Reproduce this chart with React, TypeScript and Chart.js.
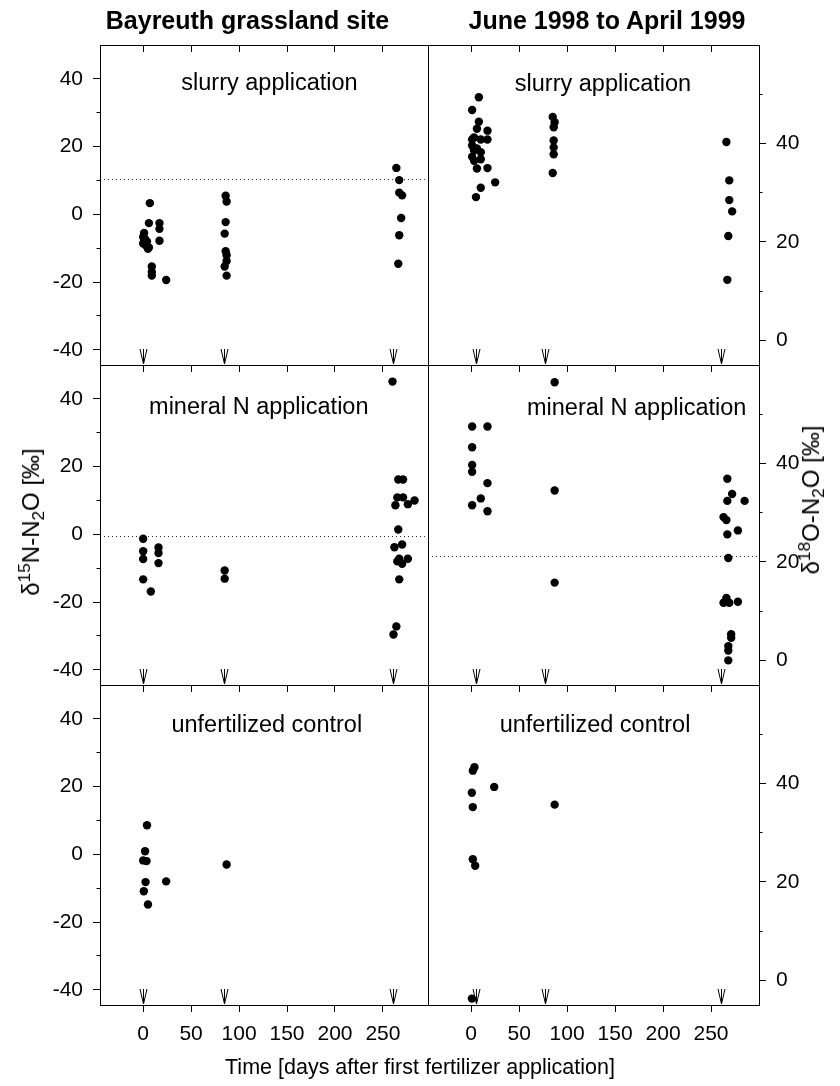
import React, { useEffect, useRef } from 'react';
import { Chart, registerables } from 'chart.js';

Chart.register(...registerables);

const FONT = '"Liberation Sans", Arial, Helvetica, sans-serif';
Chart.defaults.font.family = FONT;

// ---------- axes ----------
const xTicks = [0, 50, 100, 150, 200, 250];
const n15MajorTicks = [-40, -20, 0, 20, 40];
const n15MinorTicks = [-30, -10, 10, 30];
const o18MajorTicks = [0, 20, 40];
const o18MinorTicks = [10, 30, 50];
const n15Range = [-44.5, 50];
const o18Range = [-5, 60];
const xRangeLeft = [-45, 297];
const xRangeRight = [-45, 300];

// fertilizer application days (arrows)
const fertDaysLeft = [0, 84, 261];
const fertDaysRight = [5, 77, 260];

const treatments = ['slurry application', 'mineral N application', 'unfertilized control'];

// ---------- data: slurry ----------
const slurryN_day = [7, 6, 17, 17, 17, 1, 0, 2, 4, 0, 3, 6, 5, 1, 9, 9, 9, 24, 86, 87, 86, 85, 86, 87, 87, 85, 87, 264, 267, 267, 270, 269, 267, 266];
const slurryN_val = [3.3, -2.6, -2.6, -4.3, -7.8, -5.5, -6.7, -7.3, -8.0, -8.6, -9.2, -9.8, -10.2, -7.9, -15.4, -17.0, -18.1, -19.4, 5.5, 3.8, -2.3, -5.7, -10.9, -12.1, -13.8, -15.4, -18.1, 13.7, 10.1, 6.4, 5.6, -1.1, -6.2, -14.6];
const slurryO_day = [8, 1, 8, 6, 17, 1, 10, 17, 3, 1, 6, 3, 10, 1, 10, 3, 6, 17, 25, 10, 5, 85, 87, 86, 86, 86, 86, 85, 266, 269, 269, 272, 268, 267];
const slurryO_val = [49.4, 46.8, 44.4, 43.0, 42.6, 40.8, 40.8, 40.8, 41.2, 39.6, 39.0, 38.6, 38.2, 37.3, 36.8, 36.5, 34.9, 35.0, 32.1, 31.0, 29.1, 45.4, 44.3, 43.3, 40.6, 39.2, 37.8, 34.0, 40.3, 32.5, 28.5, 26.2, 21.2, 12.3];

// ---------- data: mineral N ----------
const mineralN_day = [0, 0, 0, 16, 16, 16, 0, 8, 85, 85, 260, 266, 271, 265, 271, 263, 276, 283, 266, 262, 270, 267, 276, 270, 265, 267, 264, 261];
const mineralN_val = [-1.3, -5.0, -7.3, -3.9, -5.5, -8.5, -13.3, -16.9, -10.7, -13.1, 45.1, 16.2, 16.2, 10.9, 10.9, 8.6, 8.9, 10.0, 1.4, -3.8, -3.0, -7.2, -7.2, -8.7, -8.0, -13.3, -27.2, -29.6];
const mineralO_day = [1, 17, 1, 1, 1, 17, 10, 1, 17, 87, 87, 87, 267, 272, 267, 285, 263, 266, 278, 267, 268, 266, 263, 269, 278, 271, 271, 268, 268, 268];
const mineralO_val = [47.5, 47.5, 43.3, 39.7, 38.3, 36.0, 32.9, 31.5, 30.3, 56.5, 34.5, 15.8, 36.9, 33.8, 32.4, 32.4, 29.1, 28.5, 26.4, 25.6, 20.8, 12.7, 11.7, 11.7, 11.9, 5.3, 4.6, 2.9, 2.0, 0.0];

// ---------- data: unfertilized control ----------
const controlN_day = [4, 2, 3.5, 0, 2.5, 24, 0.7, 5, 87];
const controlN_val = [8.6, 0.9, -2.0, -1.8, -8.2, -8.0, -10.9, -14.8, -3.0];
const controlO_day = [3.4, 1.7, 0.7, 1.7, 24, 87, 1.7, 4.2, 0.7];
const controlO_val = [43.3, 42.6, 38.1, 35.2, 39.3, 35.7, 24.6, 23.3, -3.7];

// dotted reference levels
const refSlurryN = 10.4;
const refMineralN = -0.5;
const refMineralO = 21.2;

// ---------- layout ----------
const W = 840;
const H = 1086;
const COL_X = [[100, 428], [428, 759]];
const ROW_Y = [[45, 365], [365, 685], [685, 1005]];

type Panel = { row: number; col: number; days: number[]; vals: number[]; ref: number | null };
const panels: Panel[] = [
  { row: 0, col: 0, days: slurryN_day, vals: slurryN_val, ref: refSlurryN },
  { row: 0, col: 1, days: slurryO_day, vals: slurryO_val, ref: null },
  { row: 1, col: 0, days: mineralN_day, vals: mineralN_val, ref: refMineralN },
  { row: 1, col: 1, days: mineralO_day, vals: mineralO_val, ref: refMineralO },
  { row: 2, col: 0, days: controlN_day, vals: controlN_val, ref: null },
  { row: 2, col: 1, days: controlO_day, vals: controlO_val, ref: null },
];

const labelPos = [
  [[269.5, 70.8], [603, 71.8]],
  [[258.8, 395.1], [636.7, 396.1]],
  [[266.8, 712.8], [595, 713.4]],
];

const setTicks = (vals: number[]) => (s: any) => {
  s.ticks = vals.map((v) => ({ value: v }));
};
const fixW = (w: number) => (s: any) => {
  s.width = w;
};
const fixH = (h: number) => (s: any) => {
  s.height = h;
};

const panelDecor = {
  id: 'panelDecor',
  beforeDatasetsDraw(chart: any, _args: any, opts: any) {
    const { ctx, chartArea: a, scales } = chart;
    if (opts.ref == null) return;
    const y = Math.round(scales.y.getPixelForValue(opts.ref)) + 0.5;
    ctx.save();
    ctx.strokeStyle = '#333';
    ctx.lineWidth = 1;
    ctx.setLineDash([1, 3]);
    ctx.beginPath();
    ctx.moveTo(a.left, y);
    ctx.lineTo(a.right, y);
    ctx.stroke();
    ctx.restore();
  },
  afterDraw(chart: any, _args: any, opts: any) {
    const { ctx, chartArea: a, scales } = chart;
    ctx.save();
    ctx.strokeStyle = '#000';
    ctx.lineWidth = 1;
    for (const d of opts.arrows as number[]) {
      const x = Math.round(scales.x.getPixelForValue(d)) + 0.5;
      const yt = a.bottom - 16;
      const yb = a.bottom - 1;
      ctx.beginPath();
      ctx.moveTo(x, yt);
      ctx.lineTo(x, yb);
      ctx.moveTo(x - 3.5, yt);
      ctx.lineTo(x, yb);
      ctx.lineTo(x + 3.5, yt);
      ctx.stroke();
    }
    ctx.strokeRect(a.left + 0.5, a.top + 0.5, a.right - a.left, a.bottom - a.top);
    ctx.restore();
  },
};

function tickGrid(len: number) {
  return { display: true, drawOnChartArea: false, drawTicks: true, tickLength: len, tickColor: '#000', tickWidth: 1 };
}

function makeConfig(p: Panel): any {
  const isLeft = p.col === 0;
  const isBottom = p.row === 2;
  const [x0, x1] = COL_X[p.col];
  const [y0, y1] = ROW_Y[p.row];
  const xr = isLeft ? xRangeLeft : xRangeRight;
  const yr = isLeft ? n15Range : o18Range;
  const major = isLeft ? n15MajorTicks : o18MajorTicks;
  const minor = isLeft ? n15MinorTicks : o18MinorTicks;
  const side = isLeft ? 'left' : 'right';
  const axisW = isLeft ? x0 : W - x1;
  const axisH = isBottom ? H - y1 : 0;
  const tickFont = { family: FONT, size: 21 };
  const scales: any = {
    x: {
      type: 'linear', axis: 'x', position: 'bottom', min: xr[0], max: xr[1], weight: 1,
      afterBuildTicks: setTicks(xTicks), afterFit: fixH(axisH),
      grid: tickGrid(7), border: { display: false },
      ticks: { display: isBottom, color: '#000', font: tickFont, padding: 10, maxRotation: 0, minRotation: 0, autoSkip: false },
    },
    y: {
      type: 'linear', axis: 'y', position: side, min: yr[0], max: yr[1], weight: 1,
      afterBuildTicks: setTicks(major), afterFit: fixW(axisW),
      grid: tickGrid(7), border: { display: false },
      ticks: { display: true, color: '#000', font: tickFont, padding: 10, autoSkip: false },
    },
    yMinor: {
      type: 'linear', axis: 'y', position: side, min: yr[0], max: yr[1], weight: 0,
      afterBuildTicks: setTicks(minor), afterFit: fixW(0),
      grid: tickGrid(3.5), border: { display: false },
      ticks: { display: false },
    },
  };
  if (p.row === 0) {
    scales.xTop = {
      type: 'linear', axis: 'x', position: 'top', min: xr[0], max: xr[1], weight: 0,
      afterBuildTicks: setTicks(xTicks), afterFit: fixH(0),
      grid: tickGrid(-7), border: { display: false },
      ticks: { display: false },
    };
  }
  return {
    type: 'scatter',
    data: {
      datasets: [
        {
          data: p.days.map((d, i) => ({ x: d, y: p.vals[i] })),
          backgroundColor: '#000',
          borderColor: '#000',
          borderWidth: 0,
          pointRadius: 4.2,
          pointHoverRadius: 4.2,
        },
      ],
    },
    options: {
      animation: false,
      responsive: false,
      devicePixelRatio: 1,
      events: [],
      layout: {
        padding: {
          left: isLeft ? 0 : x0,
          right: isLeft ? W - x1 : 0,
          top: y0,
          bottom: H - y1 - axisH,
        },
      },
      plugins: {
        legend: { display: false },
        tooltip: { enabled: false },
        title: { display: false },
        panelDecor: { ref: p.ref, arrows: isLeft ? fertDaysLeft : fertDaysRight },
      },
      scales,
    },
    plugins: [panelDecor],
  };
}

const supStyle: any = { fontSize: '0.72em', position: 'relative', top: '-0.5em', lineHeight: 0 };
const subStyle: any = { fontSize: '0.72em', position: 'relative', top: '0.3em', lineHeight: 0 };

export default function App() {
  const refs = useRef<(HTMLCanvasElement | null)[]>([]);
  useEffect(() => {
    const charts = panels.map((p, i) => new Chart(refs.current[i] as HTMLCanvasElement, makeConfig(p)));
    return () => charts.forEach((c) => c.destroy());
  }, []);

  const abs: any = { position: 'absolute', whiteSpace: 'nowrap', pointerEvents: 'none' };
  return (
    <div style={{ position: 'absolute', left: 0, top: 0, width: W, height: H, background: '#fff', color: '#000', fontFamily: FONT, overflow: 'hidden' }}>
      {panels.map((p, i) => (
        <canvas
          key={i}
          ref={(el) => {
            refs.current[i] = el;
          }}
          width={W}
          height={H}
          style={{ position: 'absolute', left: 0, top: 0, width: W, height: H }}
        />
      ))}
      <div style={{ ...abs, left: 247.5, top: 7.8, transform: 'translateX(-50%)', fontSize: 25, lineHeight: '25px', fontWeight: 'bold' }}>
        Bayreuth grassland site
      </div>
      <div style={{ ...abs, left: 607, top: 7.8, transform: 'translateX(-50%)', fontSize: 25, lineHeight: '25px', fontWeight: 'bold' }}>
        June 1998 to April 1999
      </div>
      {labelPos.map((row, r) =>
        row.map(([cx, top], c) => (
          <div key={`${r}-${c}`} style={{ ...abs, left: cx, top, transform: 'translateX(-50%)', fontSize: 23.5, lineHeight: '23.5px' }}>
            {treatments[r]}
          </div>
        ))
      )}
      <div style={{ ...abs, left: 420, top: 1057, transform: 'translateX(-50%)', fontSize: 21.5, lineHeight: '21.5px' }}>
        Time [days after first fertilizer application]
      </div>
      <div style={{ ...abs, left: 31, top: 522, transform: 'translate(-50%, -50%) rotate(-90deg)', fontSize: 24, lineHeight: '24px' }}>
        δ<span style={supStyle}>15</span>N-N<span style={subStyle}>2</span>O [‰]
      </div>
      <div style={{ ...abs, left: 811, top: 500, transform: 'translate(-50%, -50%) rotate(-90deg)', fontSize: 24, lineHeight: '24px' }}>
        δ<span style={supStyle}>18</span>O-N<span style={subStyle}>2</span>O [‰]
      </div>
    </div>
  );
}
